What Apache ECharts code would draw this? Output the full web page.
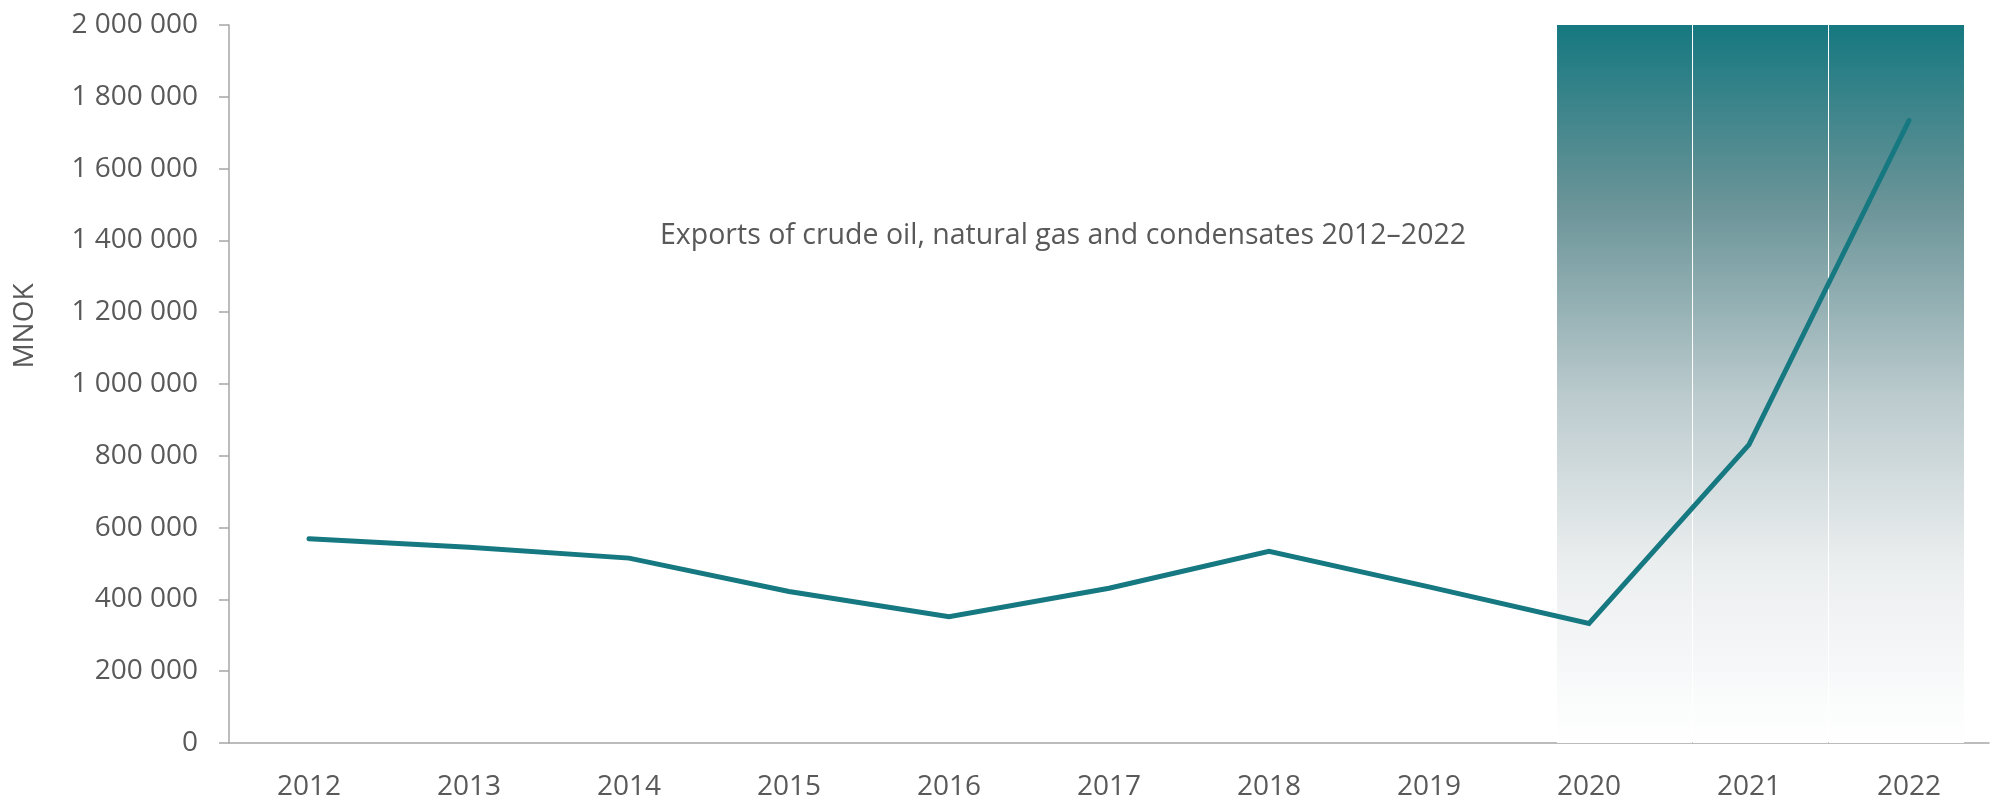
<!DOCTYPE html>
<html>
<head>
<meta charset="utf-8">
<script src="https://cdn.jsdelivr.net/npm/echarts@6/dist/echarts.min.js"></script>
<style>
  html, body { margin: 0; padding: 0; background: #fff; }
  #chart { width: 1990px; height: 803px; }
</style>
</head>
<body>
<div id="chart"></div>
<script>
// data
var years = ['2012', '2013', '2014', '2015', '2016', '2017', '2018', '2019', '2020', '2021', '2022']
var exportsMnok = [569000, 545000, 515000, 422000, 352000, 431000, 534000, 435000, 333000, 831000, 1734000]
var shadeCenters = [2020.222, 2021.072, 2021.922]   // shaded columns, in year units
var shadeTop = 2000000
var chartTitle = 'Exports of crude oil, natural gas and condensates 2012\u20132022'

var textColor = '#595959'
var axisGrey = '#a6a6a6'
var teal = '#167880'
var font = 'Open Sans'

var chart = echarts.init(document.getElementById('chart'))

var option = {
  animation: false,
  textStyle: { fontFamily: font },
  title: {
    text: chartTitle,
    left: 655,
    top: 216,
    textStyle: { fontFamily: font, fontSize: 28.5, fontWeight: 'normal', color: textColor }
  },
  grid: { left: 229, right: 1, top: 25, bottom: 60, containLabel: false },
  xAxis: [
    {
      type: 'category',
      data: years,
      boundaryGap: true,
      axisLine: { lineStyle: { color: axisGrey, width: 1.5 } },
      axisTick: { show: false },
      axisLabel: { color: textColor, fontSize: 28, fontFamily: font, margin: 30 }
    },
    {
      type: 'value',
      min: 2011.5,
      max: 2022.5,
      show: false
    }
  ],
  yAxis: {
    type: 'value',
    min: 0,
    max: 2000000,
    interval: 200000,
    name: 'MNOK',
    nameLocation: 'middle',
    nameGap: 190,
    nameTextStyle: { color: textColor, fontSize: 28, fontFamily: font, padding: [0, 0, 0, 116] },
    axisLine: { show: true, lineStyle: { color: axisGrey, width: 1.5 } },
    axisTick: { show: true, length: 10, lineStyle: { color: axisGrey, width: 1.5 } },
    splitLine: { show: false },
    axisLabel: {
      color: textColor,
      fontSize: 28,
      fontFamily: font,
      margin: 31,
      formatter: function (v) {
        return String(v).replace(/\B(?=(\d{3})+(?!\d))/g, ' ')
      }
    }
  },
  series: [
    {
      type: 'bar',
      xAxisIndex: 1,
      barWidth: 135,
      silent: true,
      z: 1,
      data: shadeCenters.map(function (x) { return [x, shadeTop] }),
      itemStyle: {
        color: new echarts.graphic.LinearGradient(0, 0, 0, 1, [
          { offset: 0, color: '#167880' },
          { offset: 0.25, color: '#6a9498' },
          { offset: 0.52, color: '#bccbce' },
          { offset: 0.75, color: '#ebeeef' },
          { offset: 1, color: '#ffffff' }
        ])
      }
    },
    {
      type: 'line',
      data: exportsMnok,
      z: 3,
      symbol: 'none',
      lineStyle: { color: teal, width: 5, cap: 'round', join: 'miter' }
    }
  ]
}

chart.setOption(option)
</script>
</body>
</html>
